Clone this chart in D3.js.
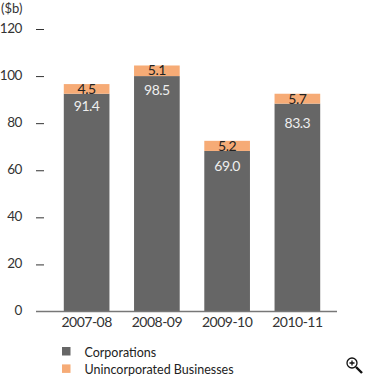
<!DOCTYPE html>
<html><head><meta charset="utf-8">
<script src="https://cdnjs.cloudflare.com/ajax/libs/d3/7.8.5/d3.min.js"></script>
<style>html,body{margin:0;padding:0;background:#fff}svg{display:block}text{font-family:Lato,"Noto Sans",sans-serif}</style>
</head><body><svg id="c" width="367" height="377"></svg>
<script>
const categories = ["2007-08","2008-09","2009-10","2010-11"];
// bar heights as drawn in the picture
const corporations = [92.5,100,68.2,88.3];
const unincorporated = [4.1,4.5,4.3,4.2];
// printed labels
const corporationLabels = ["91.4","98.5","69.0","83.3"];
const unincorporatedLabels = ["4.5","5.1","5.2","5.7"];
const yTicks = [0,20,40,60,80,100,120];
const legendLabels = ["Corporations","Unincorporated Businesses"];
const colors = ["#666666","#f6ab76"];

const svg = d3.select("#c");
const y = d3.scaleLinear().domain([0,120]).range([311.5,29]);
const x = d3.scaleBand().domain(categories).range([51.5,332.5]).paddingInner(0.35).paddingOuter(0.175);
const labelFont = {size:14, spacing:-0.5};
const corpLabelOffset = [17,19,20.5,24];

const gy = svg.append("g").attr("transform","translate(44,0)")
  .call(d3.axisLeft(y).tickValues(yTicks).tickSize(8).tickPadding(14).tickFormat(d3.format("d")));
gy.select(".domain").remove();
gy.selectAll("line").attr("stroke","#333");
gy.selectAll("text").attr("fill","#333").attr("font-size",13.5).attr("letter-spacing",-0.4).attr("y",-1);
gy.selectAll(".tick").filter(d=>d===0).select("line").remove();

svg.selectAll("rect.corp").data(categories).join("rect").attr("class","corp")
  .attr("x",d=>x(d)).attr("width",x.bandwidth())
  .attr("y",(d,i)=>y(corporations[i])).attr("height",(d,i)=>y(0)-y(corporations[i]))
  .attr("fill",colors[0]);
svg.selectAll("rect.un").data(categories).join("rect").attr("class","un")
  .attr("x",d=>x(d)).attr("width",x.bandwidth())
  .attr("y",(d,i)=>y(corporations[i]+unincorporated[i])).attr("height",(d,i)=>y(0)-y(unincorporated[i]))
  .attr("fill",colors[1]);

const gx = svg.append("g").attr("transform","translate(0,311.5)")
  .call(d3.axisBottom(x).tickSize(0).tickPadding(6));
gx.select(".domain").remove();
gx.selectAll("text").attr("fill","#333").attr("font-size",labelFont.size).attr("letter-spacing",labelFont.spacing);
svg.append("line").attr("x1",36).attr("x2",337).attr("y1",y(0)).attr("y2",y(0)).attr("stroke","#777").attr("stroke-width",1.5);

svg.selectAll("text.cl").data(categories).join("text").attr("class","cl")
  .attr("x",d=>x(d)+x.bandwidth()/2).attr("y",(d,i)=>y(corporations[i])+corpLabelOffset[i])
  .attr("text-anchor","middle").attr("font-size",labelFont.size).attr("letter-spacing",labelFont.spacing).attr("fill","#eee").text((d,i)=>corporationLabels[i]);
svg.selectAll("text.ul").data(categories).join("text").attr("class","ul")
  .attr("x",d=>x(d)+x.bandwidth()/2).attr("y",(d,i)=>y(corporations[i]+unincorporated[i])+10)
  .attr("text-anchor","middle").attr("font-size",labelFont.size).attr("letter-spacing",labelFont.spacing).attr("fill","#222").text((d,i)=>unincorporatedLabels[i]);

svg.append("text").attr("x",1).attr("y",13).attr("font-size",13).attr("fill","#333").text("($b)");

const lg = svg.selectAll("g.lg").data(legendLabels).join("g").attr("class","lg")
  .attr("transform",(d,i)=>`translate(62,${347+i*17.4})`);
lg.append("rect").attr("width",8.5).attr("height",8.5).attr("fill",(d,i)=>colors[i]);
lg.append("text").attr("x",22.5).attr("y",9.5).attr("font-size",12.5).attr("fill","#222").text(d=>d);

const ic = svg.append("g").attr("transform","translate(352,363)").attr("fill","none").attr("stroke","#111");
ic.append("circle").attr("r",5).attr("stroke-width",1.3).attr("fill","#fff");
ic.append("path").attr("d","M-2.5,0H2.5M0,-2.5V2.5").attr("stroke-width",1.3);
ic.append("path").attr("d","M4,4L10,10").attr("stroke-width",2.4);
</script></body></html>
